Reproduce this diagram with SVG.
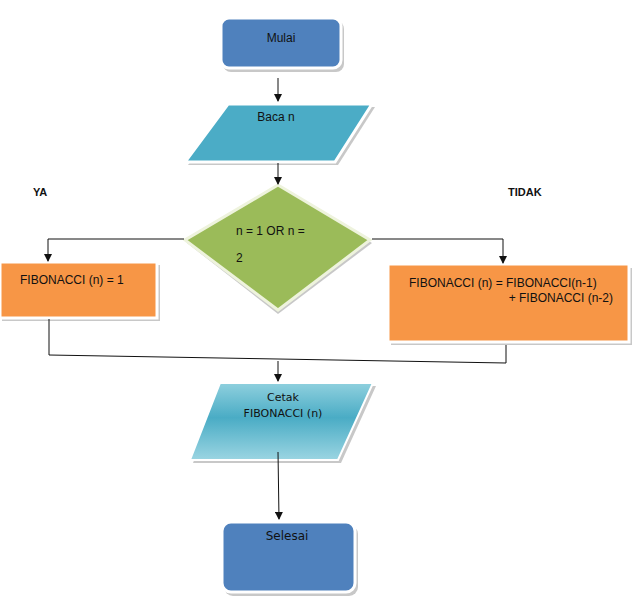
<svg xmlns="http://www.w3.org/2000/svg" width="633" height="611" viewBox="0 0 633 611">
<style>
text{font-family:"Liberation Sans",Arial,sans-serif;font-size:12px;fill:#111}
.b{fill:#4f81bd;stroke:#fff;stroke-width:3}
.sh{fill:#c8c8c8}
.o{fill:#f79646;stroke:#fff;stroke-width:3}
.c{fill:none;stroke:#111;stroke-width:1}
.lb{font-weight:bold;font-size:11px}
</style>
<defs>
<marker id="a" markerWidth="8" markerHeight="8" refX="7" refY="4" orient="auto" markerUnits="userSpaceOnUse"><path d="M0,0L8,4L0,8Z" fill="#111"/></marker>
<linearGradient id="g" x1="0" y1="0" x2="0" y2="1"><stop offset="0" stop-color="#8fd0de"/><stop offset="0.45" stop-color="#4aacc5"/><stop offset="1" stop-color="#9bd5e2"/></linearGradient>
</defs>
<g id="mulai"><rect x="223" y="21" width="121" height="51" rx="8" class="sh"/><rect x="221" y="18" width="120" height="50" rx="8" class="b"/><text x="281" y="42" text-anchor="middle" fill="#17365d">Mulai</text></g>
<g id="baca"><polygon points="231,107 375,107 338,165 188,165" class="sh"/><polygon points="228,104 372,104 335,162 185,162" fill="#4bacc6" stroke="#fff" stroke-width="3"/><text x="276" y="121" text-anchor="middle">Baca n</text></g>
<g id="keputusan"><polygon points="278,188 372,243 278,314 187,243" class="sh"/><polygon points="278,185 370,240 278,310 185,240" fill="#9bbb59" stroke="#eef3dd" stroke-width="3"/><text x="236" y="235">n = 1 OR n =</text><text x="236" y="262">2</text></g>
<g id="ya"><rect x="2" y="265" width="158" height="56" class="sh"/><rect x="0" y="262" width="157" height="56" class="o"/><text x="20" y="284">FIBONACCI (n) = 1</text></g>
<g id="tidak"><rect x="391" y="268" width="241" height="77" class="sh"/><rect x="388" y="264" width="241" height="78" class="o"/><text x="409" y="287">FIBONACCI (n) = FIBONACCI(n-1)</text><text x="613" y="302" text-anchor="end">+ FIBONACCI (n-2)</text></g>
<g id="cetak"><polygon points="223,386 376,386 341,463 193,463" class="sh"/><polygon points="220,383 373,383 338,460 190,460" fill="url(#g)" stroke="#fff" stroke-width="2"/><text x="283" y="401" text-anchor="middle" style="font-family:'DejaVu Sans',sans-serif;font-size:11px" fill="#17365d">Cetak</text><text x="283" y="417" text-anchor="middle" style="font-family:'DejaVu Sans',sans-serif;font-size:11px" fill="#17365d">FIBONACCI (n)</text></g>
<g id="selesai"><rect x="224" y="525" width="134" height="71" rx="9" class="sh"/><rect x="222" y="522" width="133" height="70" rx="9" class="b"/><text x="287" y="540" text-anchor="middle" style="font-family:'DejaVu Sans',sans-serif;font-size:12px" fill="#17365d">Selesai</text></g>
<g id="labels"><text x="33" y="196" class="lb">YA</text><text x="508" y="196" class="lb">TIDAK</text></g>
<g id="connectors">
<line x1="278" y1="78" x2="278" y2="101" class="c" marker-end="url(#a)"/>
<line x1="278" y1="163" x2="278" y2="184" class="c" marker-end="url(#a)"/>
<polyline points="184,239 48,239 48,261" class="c" marker-end="url(#a)"/>
<polyline points="372,239 503,239 503,263" class="c" marker-end="url(#a)"/>
<polyline points="49,319 49,355 506,363 506,345" class="c"/>
<line x1="278" y1="361" x2="278" y2="381" class="c" marker-end="url(#a)"/>
<line x1="278" y1="452" x2="279" y2="519" class="c" marker-end="url(#a)"/>
</g>
</svg>
